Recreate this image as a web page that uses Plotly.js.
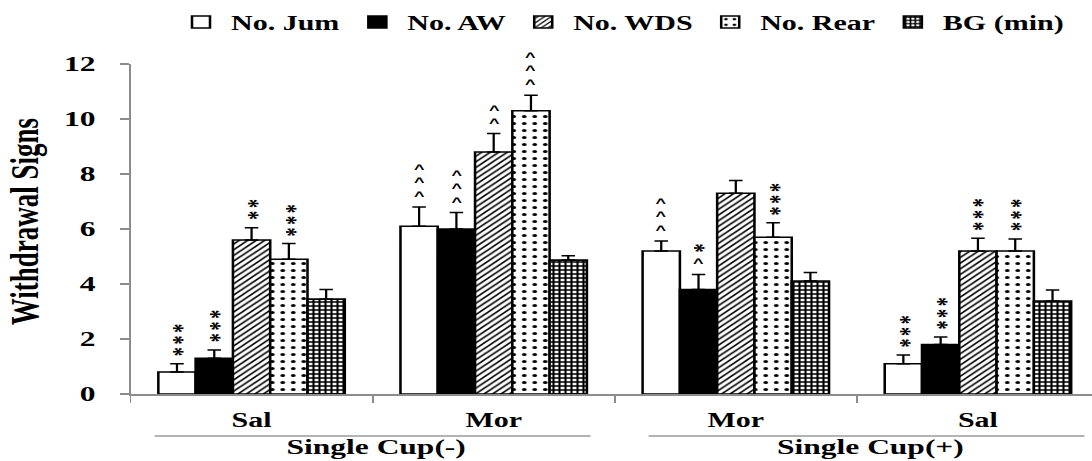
<!DOCTYPE html>
<html><head><meta charset="utf-8">
<script src="https://cdn.plot.ly/plotly-3.0.1.min.js"></script>
<style>
html,body{margin:0;padding:0;background:#fff;overflow:hidden;}
#wrap{width:1092px;height:461px;overflow:hidden;position:relative;}
#chart{width:728px;height:461px;transform:scaleX(1.5);transform-origin:0 0;}
</style></head><body><div id="wrap"><div id="chart"></div></div>
<script>
// ---------- data ----------
const categories = ["Sal (-)", "Mor (-)", "Mor (+)", "Sal (+)"];
const categoryLabels = ["Sal", "Mor", "Mor", "Sal"];
const groupLabels = ["Single Cup(-)", "Single Cup(+)"];
const seriesNames = ["No. Jum", "No. AW", "No. WDS", "No. Rear", "BG (min)"];

const jumValues  = [0.8, 6.1, 5.2, 1.1];
const jumErrors  = [0.3, 0.7, 0.36, 0.32];
const jumMarks   = ["***", "^^^", "^^^", "***"];

const awValues   = [1.3, 6.0, 3.8, 1.8];
const awErrors   = [0.3, 0.6, 0.55, 0.27];
const awMarks    = ["***", "^^^", "*^", "***"];

const wdsValues  = [5.6, 8.8, 7.3, 5.2];
const wdsErrors  = [0.45, 0.67, 0.46, 0.46];
const wdsMarks   = ["**", "^^", "", "***"];

const rearValues = [4.9, 10.3, 5.7, 5.2];
const rearErrors = [0.57, 0.56, 0.53, 0.44];
const rearMarks  = ["***", "^^^", "***", "***"];

const bgValues   = [3.45, 4.87, 4.11, 3.38];
const bgErrors   = [0.35, 0.16, 0.31, 0.4];
const bgMarks    = ["", "", "", ""];

const yTicks = [0, 2, 4, 6, 8, 10, 12];

// ---------- geometry / style ----------
const STRETCH = 1.5;               // horizontal stretch of the whole figure
const W = 1092 / STRETCH, H = 461;
const mL = 131 / STRETCH, mR = 0, mT = 64, mB = 67;
const plotW = W - mL - mR, plotH = H - mT - mB;
const catPx = 242 / STRETCH;
const xRange = [-0.5, -0.5 + plotW / catPx];
const bargap = 0.23;
const barPx = catPx * (1 - bargap) / 5;
const serif = "Liberation Serif, Times New Roman, serif";
const axisGrey = "#8c8c8c";
const paperX = fx => (fx / STRETCH - mL) / plotW;
const paperY = fy => (H - mB - fy) / plotH;

const seriesList = [
  {name: seriesNames[0], values: jumValues,  errors: jumErrors,  marks: jumMarks,
   marker: {color: "#ffffff"}},
  {name: seriesNames[1], values: awValues,   errors: awErrors,   marks: awMarks,
   marker: {color: "#000000"}},
  {name: seriesNames[2], values: wdsValues,  errors: wdsErrors,  marks: wdsMarks,
   marker: {color: "#ffffff", pattern: {shape: "/", size: 4, solidity: 0.35, fgcolor: "#000", bgcolor: "#fff", fillmode: "replace"}}},
  {name: seriesNames[3], values: rearValues, errors: rearErrors, marks: rearMarks,
   marker: {color: "#ffffff", pattern: {shape: ".", size: 7, solidity: 0.16, fgcolor: "#000", bgcolor: "#fff", fillmode: "replace"}}},
  {name: seriesNames[4], values: bgValues,   errors: bgErrors,   marks: bgMarks,
   marker: {color: "#ffffff", pattern: {shape: "+", size: 4, solidity: 0.6, fgcolor: "#000", bgcolor: "#fff", fillmode: "replace"}}}
];

const traces = seriesList.map(s => ({
  type: "bar",
  name: s.name,
  x: categories,
  y: s.values,
  marker: Object.assign({line: {color: "#000", width: 1.7}}, s.marker),
  error_y: {type: "data", symmetric: false, array: s.errors,
            arrayminus: s.errors.map(() => 0),
            color: "#000", thickness: 1.5, width: 4.5},
  hoverinfo: "skip"
}));

// significance marks above each error bar.
// A mark string is read top-to-bottom; runs of '*' are drawn as one vertical
// (rotated) text line, runs of '^' as one stacked multi-line text.
const STAR_STEP = 11.7, CARET_STEP = 13.4;
const annotations = [];
seriesList.forEach((s, j) => {
  s.marks.forEach((m, i) => {
    if (!m) return;
    const bottomUp = m.split("").reverse();
    const runs = [];
    bottomUp.forEach(ch => {
      if (runs.length && runs[runs.length - 1].ch === ch) runs[runs.length - 1].n++;
      else runs.push({ch: ch, n: 1});
    });
    let center = 11.5;                 // centre of the lowest symbol above the error bar (px)
    runs.forEach((r, k) => {
      if (k > 0) center += 14.5;
      const base = {xref: "x", yref: "y", x: categories[i], y: s.values[i] + s.errors[i],
                    showarrow: false, xanchor: "center", yanchor: "bottom", borderpad: 0};
      if (r.ch === "*") {
        annotations.push(Object.assign(base, {
          text: '<span style="letter-spacing:2.7px">' + "*".repeat(r.n) + "</span>",
          textangle: -90, xshift: (j - 2) * barPx + 3.4, yshift: center - 5,
          font: {family: serif, size: 18, color: "#000", weight: "bold"}
        }));
        center += (r.n - 1) * STAR_STEP;
      } else {
        annotations.push(Object.assign(base, {
          text: Array(r.n).fill('<span style="font-size:12px"><b>^</b></span>').join("<br>"),
          xshift: (j - 2) * barPx, yshift: center - 8.5,
          font: {family: "Liberation Sans, Arial, sans-serif", size: 10.3, color: "#000"}
        }));
        center += (r.n - 1) * CARET_STEP;
      }
    });
  });
});

// axis title
annotations.push({
  xref: "paper", yref: "paper", x: paperX(25), y: paperY(222),
  text: "Withdrawal Signs", textangle: -90, showarrow: false,
  xanchor: "center", yanchor: "middle",
  font: {family: serif, size: 27, color: "#000", weight: "bold"}
});
// group labels
annotations.push({
  xref: "x", yref: "paper", x: 0.517, y: paperY(447), text: groupLabels[0],
  showarrow: false, xanchor: "center", yanchor: "middle",
  font: {family: serif, size: 21, color: "#000", weight: "bold"}
});
annotations.push({
  xref: "x", yref: "paper", x: 2.558, y: paperY(447), text: groupLabels[1],
  showarrow: false, xanchor: "center", yanchor: "middle",
  font: {family: serif, size: 21, color: "#000", weight: "bold"}
});

const shapes = [
  {type: "line", xref: "x", yref: "paper", x0: -0.40, x1: 1.40, y0: paperY(436), y1: paperY(436),
   line: {color: "#9a9a9a", width: 1.5}},
  {type: "line", xref: "x", yref: "paper", x0: 1.64, x1: 3.44, y0: paperY(436), y1: paperY(436),
   line: {color: "#9a9a9a", width: 1.5}}
];

const layout = {
  width: W, height: H,
  margin: {l: mL, r: mR, t: mT, b: mB, pad: 0},
  paper_bgcolor: "#fff", plot_bgcolor: "#fff",
  barmode: "group", bargap: bargap, bargroupgap: 0,
  showlegend: true,
  legend: {orientation: "h", x: paperX(622), xanchor: "center", y: paperY(22), yanchor: "middle",
           font: {family: serif, size: 20, color: "#000", weight: "bold"},
           itemwidth: 30, bgcolor: "rgba(0,0,0,0)", traceorder: "normal"},
  xaxis: {
    type: "category", range: xRange, tickmode: "array", tickvals: categories, ticktext: categoryLabels,
    tickson: "boundaries", ticks: "outside", ticklen: 7, tickwidth: 1.3, tickcolor: axisGrey,
    showline: true, linecolor: axisGrey, linewidth: 1.5, showgrid: false, zeroline: false,
    tickfont: {family: serif, size: 20, color: "#000", weight: "bold"}, ticklabelstandoff: 8,
    fixedrange: true
  },
  yaxis: {
    range: [0, 12], tickmode: "array", tickvals: yTicks, ticktext: yTicks.map(String),
    ticks: "outside", ticklen: 6, tickwidth: 1.3, tickcolor: axisGrey,
    showline: true, linecolor: axisGrey, linewidth: 1.2, showgrid: false, zeroline: false,
    tickfont: {family: serif, size: 21, color: "#000", weight: "bold"}, ticklabelstandoff: 12,
    fixedrange: true
  },
  annotations: annotations,
  shapes: shapes
};

Plotly.newPlot("chart", traces, layout, {staticPlot: true, displayModeBar: false});
</script></body></html>
